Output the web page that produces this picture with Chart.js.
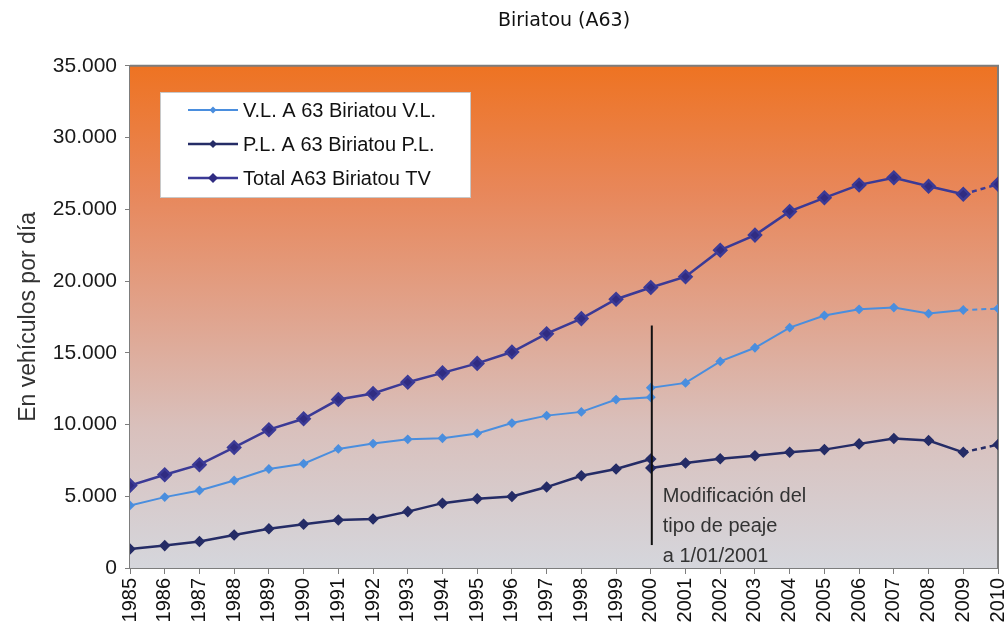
<!DOCTYPE html>
<html>
<head>
<meta charset="utf-8">
<script src="https://cdn.jsdelivr.net/npm/chart.js@4.4.0/dist/chart.umd.min.js"></script>
<style>
  html, body { margin: 0; padding: 0; background: #fff; overflow: hidden; }
  canvas { display: block; }
</style>
</head>
<body>
<canvas id="biriatouChart" width="1006" height="624"></canvas>
<script>
// Years on the x axis (2000 appears twice in the VL / PL series: before and after the toll change)
const years = [1985, 1986, 1987, 1988, 1989, 1990, 1991, 1992, 1993, 1994, 1995, 1996, 1997,
               1998, 1999, 2000, 2000, 2001, 2002, 2003, 2004, 2005, 2006, 2007, 2008, 2009, 2010];
const totalYears = [1985, 1986, 1987, 1988, 1989, 1990, 1991, 1992, 1993, 1994, 1995, 1996, 1997,
                    1998, 1999, 2000, 2001, 2002, 2003, 2004, 2005, 2006, 2007, 2008, 2009, 2010];

// Values (vehicles per day)
const vlValues = [4360, 4940, 5400, 6100, 6900, 7270, 8300, 8670, 8970, 9040, 9380, 10100, 10620,
                  10880, 11740, 11900, 12560, 12900, 14400, 15350, 16750, 17600, 18030, 18150, 17730, 17980, 18080];
const plValues = [1330, 1560, 1840, 2300, 2730, 3050, 3350, 3420, 3930, 4520, 4820, 4980, 5640,
                  6430, 6900, 7600, 6970, 7320, 7620, 7830, 8060, 8250, 8650, 9020, 8880, 8060, 8600];
const totalValues = [5750, 6500, 7200, 8400, 9640, 10400, 11740, 12160, 12950, 13600, 14260, 15050, 16330,
                     17380, 18730, 19550, 20300, 22150, 23200, 24850, 25800, 26700, 27200, 26600, 26050, 26750];

const yTicks = [0, 5000, 10000, 15000, 20000, 25000, 30000, 35000];

// Annotation: toll change marker
const markYear = 2000;
const markFrom = 16900;
const markTo = 1600;
const markText = ['Modificación del', 'tipo de peaje', 'a 1/01/2001'];

function toPoints(xs, ys) {
    return xs.map((x, i) => ({ x: x, y: ys[i] }));
}

function fmtThousands(v) {
    return String(v).replace(/\B(?=(\d{3})+(?!\d))/g, '.');
}

// last segment (2009 -> 2010) is dashed in the original
const dashLast = {
    borderDash: ctx => (ctx.p0.parsed.x === 2009 ? [5, 4] : undefined)
};

const sans = '"Liberation Sans", Arial, sans-serif';

// Plot-area gradient, frame and annotation
const decorPlugin = {
    id: 'decor',
    beforeDatasetsDraw(chart) {
        const { ctx, chartArea: a } = chart;
        ctx.save();
        const g = ctx.createLinearGradient(0, a.top, 0, a.bottom);
        g.addColorStop(0, '#ee7322');
        g.addColorStop(0.25, '#e8875a');
        g.addColorStop(0.5, '#e0a48e');
        g.addColorStop(0.72, '#d9c0bc');
        g.addColorStop(1, '#d5d6dc');
        ctx.fillStyle = g;
        ctx.fillRect(a.left, a.top, a.right - a.left, a.bottom - a.top);

        // top and right frame
        ctx.strokeStyle = '#7d7d7d';
        ctx.lineWidth = 2;
        ctx.beginPath();
        ctx.moveTo(a.left, a.top);
        ctx.lineTo(a.right, a.top);
        ctx.lineTo(a.right, a.bottom);
        ctx.stroke();
        ctx.restore();
    },
    afterDatasetsDraw(chart) {
        const { ctx } = chart;
        const xs = chart.scales.x, ys = chart.scales.y;
        const x = xs.getPixelForValue(markYear);
        ctx.save();
        ctx.strokeStyle = '#111';
        ctx.lineWidth = 2;
        ctx.beginPath();
        ctx.moveTo(x + 1, ys.getPixelForValue(markFrom));
        ctx.lineTo(x + 1, ys.getPixelForValue(markTo));
        ctx.stroke();
        ctx.fillStyle = '#333';
        ctx.font = '20px ' + sans;
        ctx.textBaseline = 'middle';
        ctx.textAlign = 'left';
        const y0 = ys.getPixelForValue(4950);
        markText.forEach((t, i) => ctx.fillText(t, x + 12, y0 + i * 30));
        ctx.restore();
    }
};

new Chart(document.getElementById('biriatouChart'), {
    type: 'line',
    data: {
        datasets: [
            {
                label: 'V.L. A 63 Biriatou V.L.',
                data: toPoints(years, vlValues),
                borderColor: '#4a8ede',
                backgroundColor: '#4a8ede',
                borderWidth: 2,
                pointStyle: 'rectRot',
                pointRadius: 3.5,
                pointHoverRadius: 3.5,
                segment: dashLast
            },
            {
                label: 'P.L. A 63 Biriatou P.L.',
                data: toPoints(years, plValues),
                borderColor: '#252c66',
                backgroundColor: '#252c66',
                borderWidth: 2.5,
                pointStyle: 'rectRot',
                pointRadius: 4,
                pointHoverRadius: 4,
                segment: dashLast
            },
            {
                label: 'Total A63 Biriatou TV',
                data: toPoints(totalYears, totalValues),
                borderColor: '#3b3a96',
                backgroundColor: '#302c82',
                borderWidth: 2.5,
                pointStyle: 'rectRot',
                pointRadius: 6,
                pointHoverRadius: 6,
                segment: dashLast
            }
        ]
    },
    options: {
        responsive: false,
        animation: false,
        layout: {
            autoPadding: false,
            padding: { left: 0, right: 8, top: 0, bottom: 0 }
        },
        plugins: {
            title: {
                display: true,
                text: 'Biriatou (A63)',
                fullSize: false,
                color: '#111',
                font: { family: '"DejaVu Sans", sans-serif', size: 19, weight: 'normal' },
                padding: { top: 10, bottom: 33 }
            },
            legend: { display: false },
            tooltip: { enabled: false }
        },
        scales: {
            x: {
                type: 'linear',
                min: 1985,
                max: 2010,
                afterFit: s => { s.height = 56; s.paddingLeft = 0; s.paddingRight = 0; },
                border: { display: true, color: '#7d7d7d', width: 2 },
                grid: { drawOnChartArea: false, drawTicks: true, tickLength: 6, color: '#7d7d7d' },
                ticks: {
                    stepSize: 1,
                    autoSkip: false,
                    minRotation: 90,
                    maxRotation: 90,
                    padding: 4,
                    color: '#111',
                    font: { family: sans, size: 20 },
                    callback: v => String(v)
                }
            },
            y: {
                min: 0,
                max: 35000,
                afterFit: s => { s.width = 130; s.paddingTop = 0; s.paddingBottom = 0; },
                afterBuildTicks: s => { s.ticks = yTicks.map(v => ({ value: v })); },
                border: { display: true, color: '#7d7d7d', width: 2 },
                grid: { drawOnChartArea: false, drawTicks: true, tickLength: 5, color: '#7d7d7d' },
                title: {
                    display: true,
                    text: 'En vehículos por día',
                    color: '#333',
                    font: { family: sans, size: 23 },
                    padding: { top: 15, bottom: 0 }
                },
                ticks: {
                    padding: 8,
                    color: '#1a1a1a',
                    font: { family: sans, size: 21 },
                    callback: v => fmtThousands(v)
                }
            }
        }
    },
    plugins: [decorPlugin, {
        // legend box drawn inside the plot area
        id: 'innerLegend',
        afterDraw(chart) {
            const { ctx } = chart;
            const bx = 160, by = 92, bw = 310, bh = 105;
            ctx.save();
            ctx.fillStyle = '#ffffff';
            ctx.fillRect(bx, by, bw, bh);
            ctx.strokeStyle = '#c8c8c8';
            ctx.lineWidth = 1;
            ctx.strokeRect(bx + 0.5, by + 0.5, bw, bh);
            ctx.font = '20px ' + sans;
            ctx.textBaseline = 'middle';
            chart.data.datasets.forEach((ds, i) => {
                const y = by + 18 + i * 34;
                ctx.strokeStyle = ds.borderColor;
                ctx.lineWidth = ds.borderWidth;
                ctx.beginPath();
                ctx.moveTo(bx + 28, y);
                ctx.lineTo(bx + 78, y);
                ctx.stroke();
                ctx.fillStyle = ds.backgroundColor;
                const r = Math.min(ds.pointRadius, 5);
                ctx.beginPath();
                ctx.moveTo(bx + 53, y - r);
                ctx.lineTo(bx + 53 + r, y);
                ctx.lineTo(bx + 53, y + r);
                ctx.lineTo(bx + 53 - r, y);
                ctx.closePath();
                ctx.fill();
                ctx.fillStyle = '#111';
                ctx.fillText(ds.label, bx + 83, y + 1);
            });
            ctx.restore();
        }
    }]
});
</script>
</body>
</html>
